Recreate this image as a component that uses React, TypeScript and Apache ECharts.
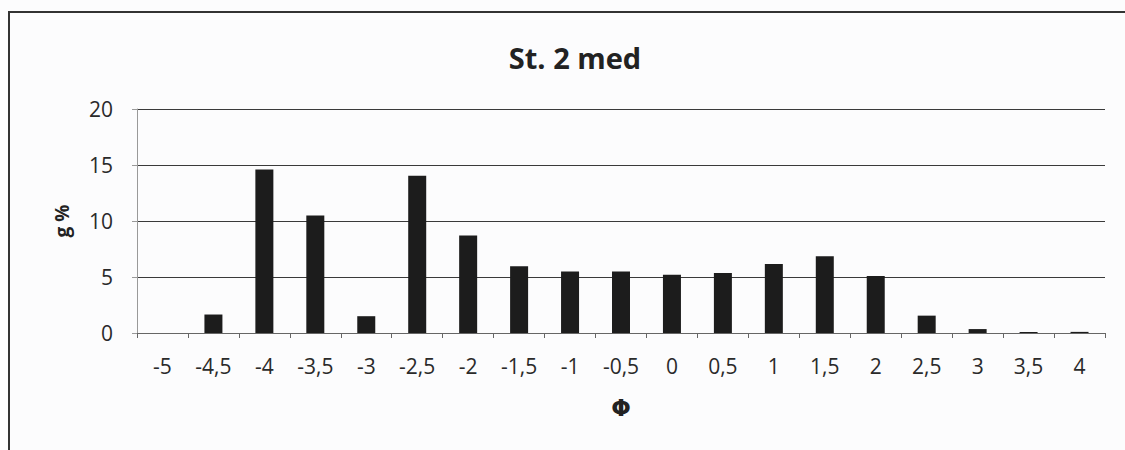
import React, { useEffect, useRef } from "react";
import * as echarts from "echarts";

const categories = ["-5", "-4,5", "-4", "-3,5", "-3", "-2,5", "-2", "-1,5", "-1", "-0,5", "0", "0,5", "1", "1,5", "2", "2,5", "3", "3,5", "4"];
const values = [0, 1.65, 14.6, 10.5, 1.5, 14.05, 8.7, 5.95, 5.5, 5.5, 5.2, 5.35, 6.15, 6.85, 5.1, 1.55, 0.35, 0.1, 0.1];
const yTicks = { min: 0, max: 20, interval: 5 };
const title = "St. 2 med";
const yName = "g %";
const xName = "Φ";

const FONT = "'Open Sans', 'Noto Sans', sans-serif";

export default function App() {
  const ref = useRef<HTMLDivElement>(null);
  useEffect(() => {
    if (!ref.current) return;
    const chart = echarts.init(ref.current, undefined, { renderer: "svg" });
    chart.setOption({
      animation: false,
      backgroundColor: "#fcfcfd",
      title: {
        text: title,
        left: 570,
        textAlign: "center",
        top: 38,
        textStyle: { fontFamily: FONT, fontSize: 29, fontWeight: "bold", color: "#222" },
      },
      grid: { left: 137, right: 20, top: 109, bottom: 117, containLabel: false },
      xAxis: {
        type: "category",
        data: categories,
        boundaryGap: true,
        name: xName,
        nameLocation: "middle",
        nameGap: 63,
        nameTextStyle: { fontFamily: "'DejaVu Sans', sans-serif", fontSize: 23, fontWeight: "bold", color: "#222" },
        axisLine: { show: true, lineStyle: { color: "#666", width: 1 } },
        axisTick: { show: true, alignWithLabel: false, length: 5, lineStyle: { color: "#666" } },
        axisLabel: { fontFamily: FONT, fontSize: 21, color: "#2a2a2a", margin: 22, interval: 0 },
        splitLine: { show: false },
      },
      yAxis: {
        type: "value",
        min: yTicks.min,
        max: yTicks.max,
        interval: yTicks.interval,
        name: yName,
        nameLocation: "middle",
        nameRotate: 90,
        nameGap: 66,
        nameTextStyle: { fontFamily: FONT, fontSize: 19, fontWeight: "bold", color: "#222" },
        axisLine: { show: true, lineStyle: { color: "#999", width: 1 } },
        axisTick: { show: true, length: 5, lineStyle: { color: "#999" } },
        axisLabel: { fontFamily: FONT, fontSize: 21, color: "#2a2a2a", margin: 24 },
        splitLine: { show: true, lineStyle: { color: "#3a3a3a", width: 1 } },
      },
      series: [
        {
          type: "bar",
          data: values,
          barWidth: 18,
          itemStyle: { color: "#1c1c1c" },
        },
      ],
      graphic: [
        {
          type: "rect",
          shape: { x: 9, y: 12, width: 1130, height: 460 },
          style: { fill: "none", stroke: "#333", lineWidth: 2 },
          silent: true,
        },
      ],
    });
    return () => chart.dispose();
  }, []);
  return <div ref={ref} style={{ position: "fixed", left: 0, top: 0, width: 1125, height: 450 }} />;
}
